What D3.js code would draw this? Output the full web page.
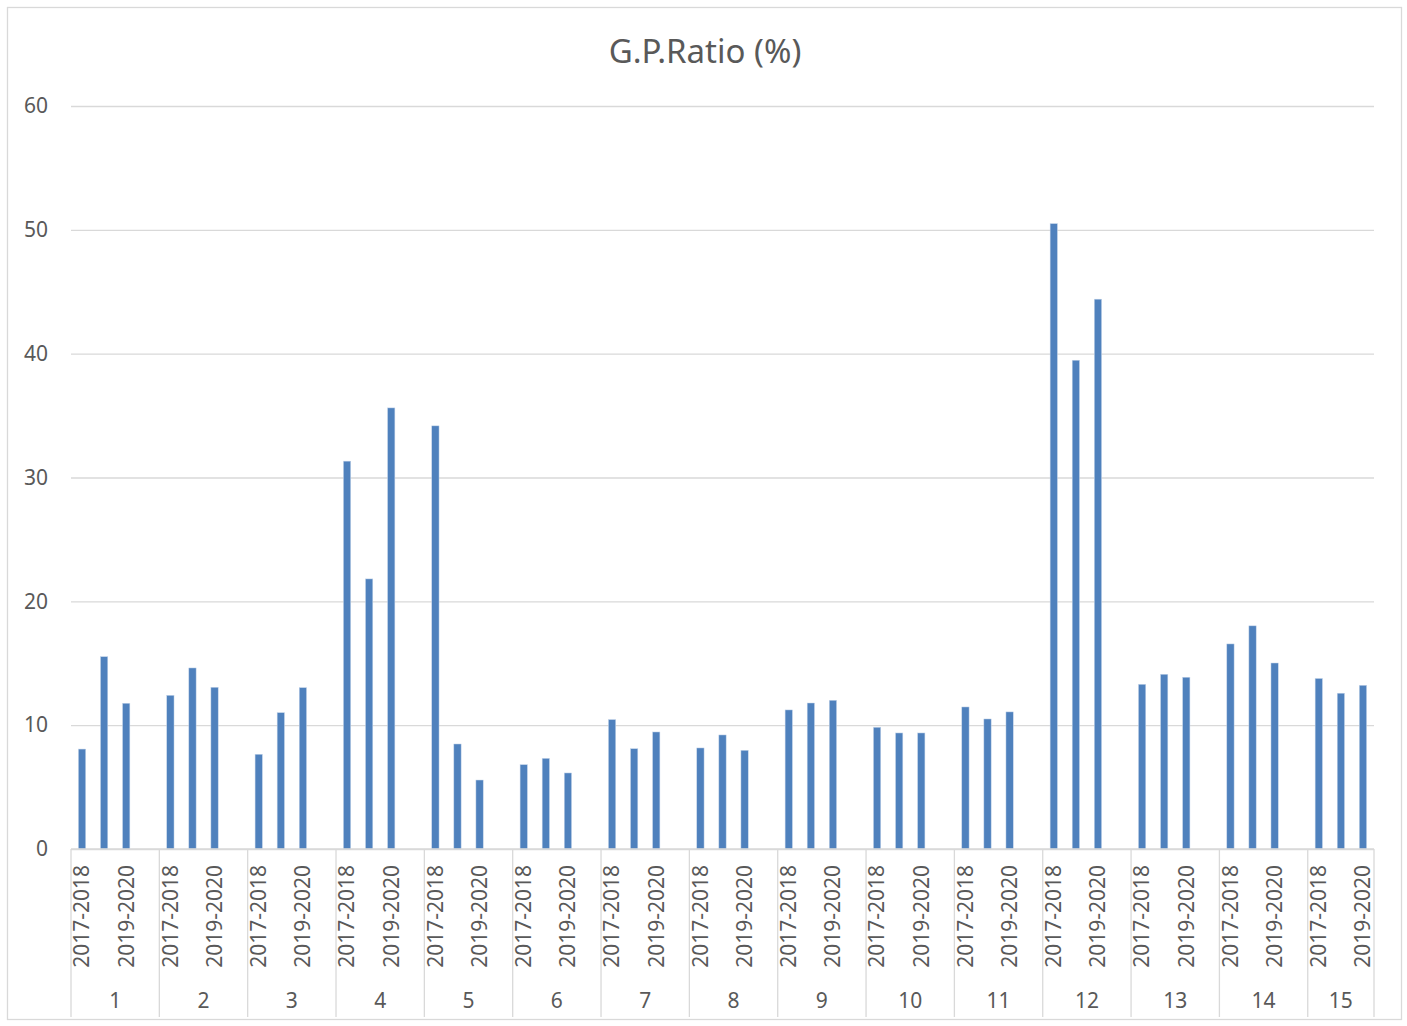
<!DOCTYPE html>
<meta charset="utf-8">
<style>
    body { margin: 0; background: #fff; }
    text { font-family: "Noto Sans", "Open Sans", sans-serif; fill: #595959; }
    .grid line { stroke: #d9d9d9; stroke-width: 1.3px; }
    .bar { fill: #4f81bd; stroke: #c5d5ea; stroke-width: 0.5px; }
</style>
<body>
<svg width="1407" height="1026"></svg>
<script src="https://d3js.org/d3.v7.min.js"></script>
<script>

    // data
    var groups = ["1", "2", "3", "4", "5", "6", "7", "8", "9", "10", "11", "12", "13", "14", "15"];
    var years = ["2017-2018", "2018-2019", "2019-2020"];
    var ratio1718 = [8.07, 12.41, 7.65, 31.32, 34.17, 6.81, 10.45, 8.16, 11.23, 9.83, 11.47, 50.5, 13.3, 16.56, 13.77];
    var ratio1819 = [15.53, 14.62, 11.01, 21.81, 8.48, 7.32, 8.10, 9.21, 11.79, 9.37, 10.50, 39.47, 14.11, 18.02, 12.58];
    var ratio1920 = [11.77, 13.06, 13.03, 35.62, 5.57, 6.14, 9.45, 7.97, 12.01, 9.37, 11.07, 44.4, 13.87, 15.02, 13.22];
    var yTicks = [0, 10, 20, 30, 40, 50, 60];
    var yearLabelsShown = ["2017-2018", "2019-2020"];

    var series = [ratio1718, ratio1819, ratio1920];

    var svg = d3.select("svg"),
        plot = {left: 71, right: 1374, top: 106, bottom: 849},
        axisBottom = 1017;

    // border round the chart
    svg.append("rect")
        .attr("x", 7.5).attr("y", 7.5)
        .attr("width", 1394).attr("height", 1012)
        .attr("fill", "none")
        .attr("stroke", "#d9d9d9")
        .attr("stroke-width", 1.3);

    // one slot per row, plus the blank row between groups
    var slots = [];
    groups.forEach(function (g, gi) {
        years.forEach(function (yr, yi) {
            slots.push({key: g + "|" + yr, group: g, year: yr, value: series[yi][gi]});
        });
        if (gi < groups.length - 1) slots.push({key: g + "|", group: g, year: "", value: null});
    });

    var x = d3.scaleBand()
        .domain(slots.map(function (d) { return d.key; }))
        .range([plot.left, plot.right])
        .padding(0);

    var y = d3.scaleLinear().domain([0, 60]).range([plot.bottom, plot.top]);

    svg.append("text")
        .attr("x", 705)
        .attr("y", 63)
        .attr("text-anchor", "middle")
        .style("font-size", "33px")
        .text("G.P.Ratio (%)");

    var yAxis = d3.axisLeft(y)
        .tickValues(yTicks)
        .tickSize(-(plot.right - plot.left))
        .tickPadding(23);

    var gy = svg.append("g")
        .attr("class", "grid")
        .attr("transform", "translate(" + plot.left + ",0)")
        .call(yAxis);
    gy.select(".domain").remove();
    gy.selectAll("text").style("font-size", "21px").attr("fill", "#595959");

    var bw = x.bandwidth() * 0.33;

    svg.append("g").selectAll("rect")
        .data(slots.filter(function (d) { return d.value !== null; }))
        .enter().append("rect")
        .attr("class", "bar")
        .attr("x", function (d) { return x(d.key) + (x.bandwidth() - bw) / 2; })
        .attr("y", function (d) { return y(d.value); })
        .attr("width", bw)
        .attr("height", function (d) { return y(0) - y(d.value); });

    // baseline redrawn over bars
    svg.append("line")
        .attr("x1", plot.left).attr("x2", plot.right)
        .attr("y1", y(0)).attr("y2", y(0))
        .attr("stroke", "#d9d9d9").attr("stroke-width", 1.3);

    // group boundaries on the category axis
    var bounds = groups.map(function (g) { return x(g + "|" + years[0]); });
    bounds.push(plot.right);
    svg.append("g").selectAll("line")
        .data(bounds)
        .enter().append("line")
        .attr("x1", function (d) { return d; }).attr("x2", function (d) { return d; })
        .attr("y1", y(0)).attr("y2", axisBottom)
        .attr("stroke", "#d9d9d9").attr("stroke-width", 1.3);

    // inner level: every other row label
    svg.append("g").selectAll("text")
        .data(slots.filter(function (d) { return yearLabelsShown.indexOf(d.year) >= 0; }))
        .enter().append("text")
        .attr("transform", function (d) {
            return "translate(" + (x(d.key) + x.bandwidth() / 2) + ",865) rotate(-90)";
        })
        .attr("text-anchor", "end")
        .attr("dy", "0.35em")
        .style("font-size", "21px")
        .text(function (d) { return d.year; });

    // outer level: group numbers
    svg.append("g").selectAll("text")
        .data(groups)
        .enter().append("text")
        .attr("x", function (d, i) { return (bounds[i] + bounds[i + 1]) / 2; })
        .attr("y", 1001)
        .attr("dy", "0.35em")
        .attr("text-anchor", "middle")
        .style("font-size", "21px")
        .text(function (d) { return d; });

</script>
</body>
